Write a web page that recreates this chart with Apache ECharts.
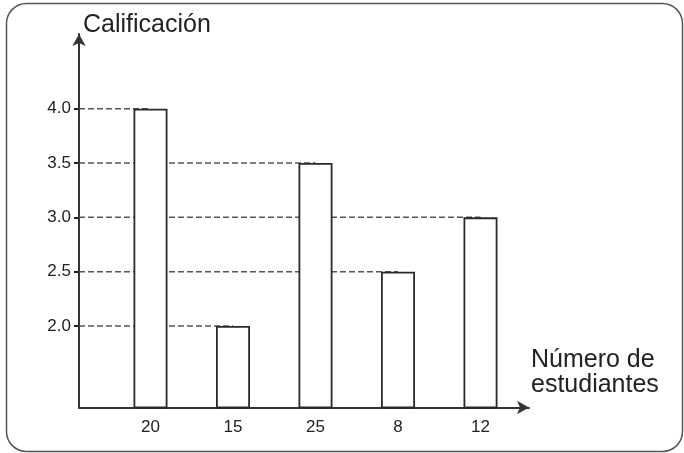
<!doctype html>
<html lang="es">
<head>
    <meta charset="UTF-8">
    <script src="https://cdn.jsdelivr.net/npm/echarts@6/dist/echarts.min.js"></script>
    <title>Calificación</title>
    <style>
        body { margin: 0; background: #fff; }
    </style>
</head>
<body>
<div id="main" style="width: 684px;height:453px;"></div>
<script>
    // datos
    var categories = ['20', '15', '25', '8', '12'];
    var grades = [4.0, 2.0, 3.5, 2.5, 3.0];
    var yTicks = [2.0, 2.5, 3.0, 3.5, 4.0];

    var AXIS_X = 79;   // posicion del eje vertical (izquierda de la grid 0)
    var Y_MIN = 1.25;
    var Y_MAX = 4.687;

    var myChart = echarts.init(document.getElementById('main'));

    var fontFamily = '"Liberation Sans", Arial, sans-serif';

    var option = {
        backgroundColor: '#fff',
        animation: false,
        textStyle: { fontFamily: fontFamily },
        graphic: [
            {
                type: 'rect',
                shape: { x: 6.5, y: 3.5, width: 676, height: 448, r: 20 },
                style: { fill: 'none', stroke: '#555', lineWidth: 1.5 },
                silent: true
            }
        ],
        grid: [
            // ejes visibles con flechas
            { left: AXIS_X, right: 684 - 529, top: 34, bottom: 45.5 },
            // barras
            { left: 109.25, width: 412.5, top: 34, bottom: 45.5 }
        ],
        xAxis: [
            {
                gridIndex: 0,
                type: 'value',
                min: 0,
                max: 1,
                name: 'Número de\nestudiantes',
                nameLocation: 'end',
                nameGap: 2,
                nameTextStyle: {
                    fontSize: 25,
                    color: '#222',
                    align: 'left',
                    verticalAlign: 'bottom',
                    lineHeight: 25,
                    padding: [0, 0, 10, 0]
                },
                axisLine: {
                    show: true,
                    symbol: ['none', 'arrow'],
                    symbolSize: [10, 12],
                    lineStyle: { color: '#333', width: 2 }
                },
                axisTick: { show: false },
                axisLabel: { show: false },
                splitLine: { show: false }
            },
            {
                gridIndex: 1,
                type: 'category',
                data: categories,
                axisLine: { show: false },
                axisTick: { show: false },
                axisLabel: {
                    fontSize: 17,
                    color: '#222',
                    margin: 11
                },
                splitLine: { show: false }
            }
        ],
        yAxis: [
            {
                gridIndex: 0,
                type: 'value',
                min: Y_MIN,
                max: Y_MAX,
                name: 'Calificación',
                nameLocation: 'end',
                nameGap: 9,
                nameTextStyle: {
                    fontSize: 25,
                    color: '#222',
                    align: 'left',
                    verticalAlign: 'middle',
                    padding: [0, 0, 0, 4]
                },
                axisLine: {
                    show: true,
                    symbol: ['none', 'arrow'],
                    symbolSize: [10, 12],
                    lineStyle: { color: '#333', width: 2 }
                },
                axisTick: {
                    show: true,
                    length: 5,
                    customValues: yTicks,
                    lineStyle: { color: '#222', width: 2 }
                },
                axisLabel: {
                    fontSize: 17,
                    color: '#222',
                    margin: 8,
                    customValues: yTicks,
                    formatter: function (v) {
                        return yTicks.indexOf(v) >= 0 ? v.toFixed(1) : '';
                    }
                },
                splitLine: { show: false }
            },
            {
                gridIndex: 1,
                type: 'value',
                min: Y_MIN,
                max: Y_MAX,
                show: false,
                splitLine: { show: false }
            }
        ],
        series: [
            {
                // lineas punteadas desde el eje hasta cada barra
                type: 'custom',
                xAxisIndex: 1,
                yAxisIndex: 1,
                z: 1,
                silent: true,
                data: grades.map(function (g, i) { return [i, g]; }),
                renderItem: function (params, api) {
                    var p = api.coord([api.value(0), api.value(1)]);
                    return {
                        type: 'line',
                        shape: { x1: AXIS_X, y1: p[1], x2: p[0], y2: p[1] },
                        style: { stroke: '#555', lineWidth: 1.5, lineDash: [6, 3] }
                    };
                }
            },
            {
                type: 'bar',
                xAxisIndex: 1,
                yAxisIndex: 1,
                z: 3,
                barWidth: 34,
                data: grades,
                itemStyle: {
                    color: '#fff',
                    borderColor: '#2a2a2a',
                    borderWidth: 1.8
                }
            }
        ]
    };

    myChart.setOption(option);
</script>
</body>
</html>
